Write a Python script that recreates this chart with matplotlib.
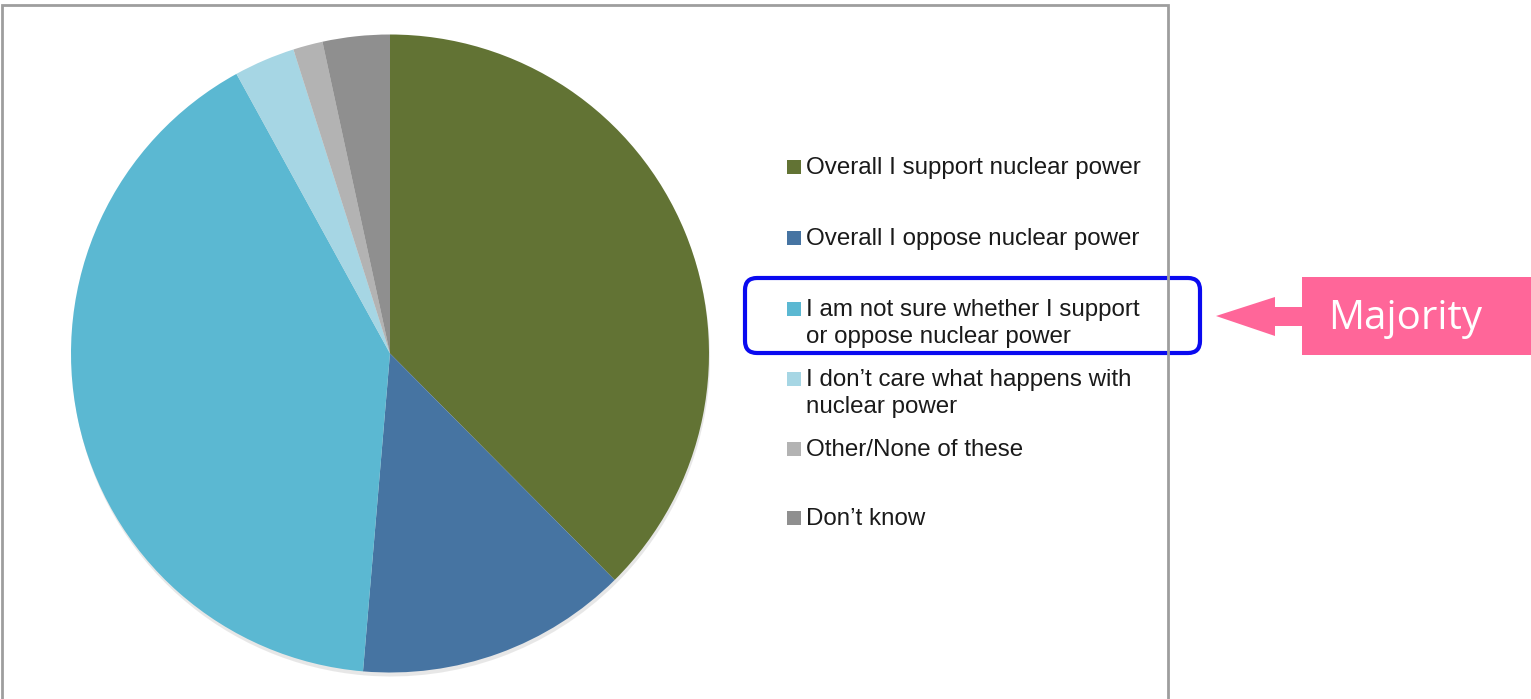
import matplotlib
matplotlib.use("Agg")
import matplotlib.pyplot as plt
from matplotlib.patches import Rectangle, FancyBboxPatch, Polygon

# ---- data ----
categories = [
    "Overall I support nuclear power",
    "Overall I oppose nuclear power",
    "I am not sure whether I support\nor oppose nuclear power",
    "I don\u2019t care what happens with\nnuclear power",
    "Other/None of these",
    "Don\u2019t know",
]
shares = [37.6, 13.8, 40.7, 3.1, 1.5, 3.4]
colors = ["#627334", "#4674A2", "#5BB8D2", "#A6D6E4", "#B3B3B3", "#8F8F8F"]
callout_text = "Majority"

W, H = 1531, 699
fig = plt.figure(figsize=(W / 100, H / 100), dpi=100)
ax = fig.add_axes([0, 0, 1, 1])

def Y(y):
    return H - y

# pie shadow + pie
cx, cy, r = 390, 353.5, 319
ax.pie(shares, colors=["#bdbdbd"] * len(shares), startangle=90, counterclock=False,
       center=(cx + 1, Y(cy) - 4), radius=r, frame=True,
       wedgeprops=dict(linewidth=0, alpha=0.35))
ax.pie(shares, colors=colors, startangle=90, counterclock=False,
       center=(cx, Y(cy)), radius=r, frame=True,
       wedgeprops=dict(linewidth=0))
ax.set_xlim(0, W)
ax.set_ylim(0, H)
ax.set_aspect("equal")
ax.axis("off")

# frame around chart area
ax.plot([2, 2, 1168, 1168], [Y(699), Y(5), Y(5), Y(699)], color="#9E9E9E", lw=2,
        solid_joinstyle="miter")

# legend (Excel style)
first_line_y = [167, 238, 309, 379, 449, 518]
for lab, col, y in zip(categories, colors, first_line_y):
    ax.add_patch(Rectangle((787, Y(y) - 7), 14, 14, facecolor=col, edgecolor="none"))
    ax.text(806, Y(y) + 10, lab, fontsize=17.4, family="Liberation Sans", color="#1a1a1a",
            va="top", ha="left", linespacing=1.3)

# blue rounded highlight box
ax.add_patch(FancyBboxPatch((757, Y(353) + 12), 431, 75 - 24,
                            boxstyle="round,pad=12", facecolor="none",
                            edgecolor="#0A0AF0", linewidth=3))

# pink arrow + callout
arrow = Polygon([(1216, Y(316)), (1275, Y(297)), (1275, Y(307)), (1303, Y(307)),
                 (1303, Y(326)), (1275, Y(326)), (1275, Y(336))],
                closed=True, facecolor="#FF6699", edgecolor="none")
ax.add_patch(arrow)
ax.add_patch(Rectangle((1302, Y(355)), 229, 78, facecolor="#FF6699", edgecolor="none"))
ax.text(1405, Y(319), callout_text, fontsize=29, family="Open Sans", color="white",
        ha="center", va="center")

fig.savefig("out.png", dpi=100)
